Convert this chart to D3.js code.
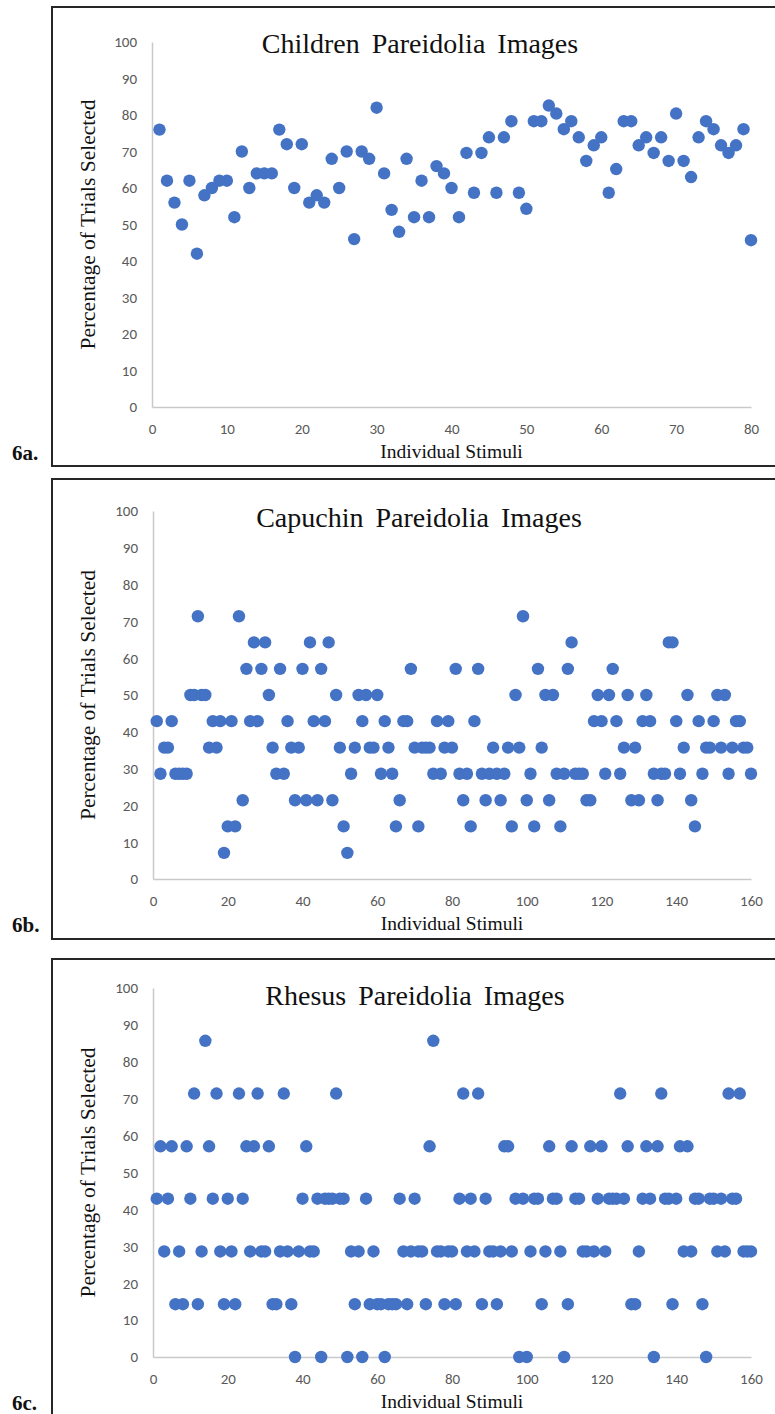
<!DOCTYPE html>
<html>
<head>
<meta charset="utf-8">
<script src="https://cdn.jsdelivr.net/npm/d3@7"></script>
<style>
  body { margin: 0; background: #fff; }
  svg { display: block; }
</style>
</head>
<body>
<script>
////////////////////////////////// Data //////////////////////////////////
// percentage of trials on which each stimulus was selected, stimulus 1..n
var childrenValues = [
  76, 62, 56, 50, 62, 42, 58, 60, 62, 62,
  52, 70, 60, 64, 64, 64, 76, 72, 60, 72,
  56, 58, 56, 68, 60, 70, 46, 70, 68, 82,
  64, 54, 48, 68, 52, 62, 52, 66, 64, 60,
  52, 69.6, 58.7, 69.6, 73.9, 58.7, 73.9, 78.3, 58.7, 54.3,
  78.3, 78.3, 82.6, 80.4, 76.1, 78.3, 73.9, 67.4, 71.7, 73.9,
  58.7, 65.2, 78.3, 78.3, 71.7, 73.9, 69.6, 73.9, 67.4, 80.4,
  67.4, 63, 73.9, 78.3, 76.1, 71.7, 69.6, 71.7, 76.1, 45.7
]

var capuchinValues = [
  42.9, 28.6, 35.7, 35.7, 42.9, 28.6, 28.6, 28.6, 28.6, 50,
  50, 71.4, 50, 50, 35.7, 42.9, 35.7, 42.9, 7.1, 14.3,
  42.9, 14.3, 71.4, 21.4, 57.1, 42.9, 64.3, 42.9, 57.1, 64.3,
  50, 35.7, 28.6, 57.1, 28.6, 42.9, 35.7, 21.4, 35.7, 57.1,
  21.4, 64.3, 42.9, 21.4, 57.1, 42.9, 64.3, 21.4, 50, 35.7,
  14.3, 7.1, 28.6, 35.7, 50, 42.9, 50, 35.7, 35.7, 50,
  28.6, 42.9, 35.7, 28.6, 14.3, 21.4, 42.9, 42.9, 57.1, 35.7,
  14.3, 35.7, 35.7, 35.7, 28.6, 42.9, 28.6, 35.7, 42.9, 35.7,
  57.1, 28.6, 21.4, 28.6, 14.3, 42.9, 57.1, 28.6, 21.4, 28.6,
  35.7, 28.6, 21.4, 28.6, 35.7, 14.3, 50, 35.7, 71.4, 21.4,
  28.6, 14.3, 57.1, 35.7, 50, 21.4, 50, 28.6, 14.3, 28.6,
  57.1, 64.3, 28.6, 28.6, 28.6, 21.4, 21.4, 42.9, 50, 42.9,
  28.6, 50, 57.1, 42.9, 28.6, 35.7, 50, 21.4, 35.7, 21.4,
  42.9, 50, 42.9, 28.6, 21.4, 28.6, 28.6, 64.3, 64.3, 42.9,
  28.6, 35.7, 50, 21.4, 14.3, 42.9, 28.6, 35.7, 35.7, 42.9,
  50, 35.7, 50, 28.6, 35.7, 42.9, 42.9, 35.7, 35.7, 28.6
]

var rhesusValues = [
  42.9, 57.1, 28.6, 42.9, 57.1, 14.3, 28.6, 14.3, 57.1, 42.9,
  71.4, 14.3, 28.6, 85.7, 57.1, 42.9, 71.4, 28.6, 14.3, 42.9,
  28.6, 14.3, 71.4, 42.9, 57.1, 28.6, 57.1, 71.4, 28.6, 28.6,
  57.1, 14.3, 14.3, 28.6, 71.4, 28.6, 14.3, 0, 28.6, 42.9,
  57.1, 28.6, 28.6, 42.9, 0, 42.9, 42.9, 42.9, 71.4, 42.9,
  42.9, 0, 28.6, 14.3, 28.6, 0, 42.9, 14.3, 28.6, 14.3,
  14.3, 0, 14.3, 14.3, 14.3, 42.9, 28.6, 14.3, 28.6, 42.9,
  28.6, 28.6, 14.3, 57.1, 85.7, 28.6, 28.6, 14.3, 28.6, 28.6,
  14.3, 42.9, 71.4, 28.6, 42.9, 28.6, 71.4, 14.3, 42.9, 28.6,
  28.6, 14.3, 28.6, 57.1, 57.1, 28.6, 42.9, 0, 42.9, 0,
  28.6, 42.9, 42.9, 14.3, 28.6, 57.1, 42.9, 42.9, 28.6, 0,
  14.3, 57.1, 42.9, 42.9, 28.6, 28.6, 57.1, 28.6, 42.9, 57.1,
  28.6, 42.9, 42.9, 42.9, 71.4, 42.9, 57.1, 14.3, 14.3, 28.6,
  42.9, 57.1, 42.9, 0, 57.1, 71.4, 42.9, 42.9, 14.3, 42.9,
  57.1, 28.6, 57.1, 28.6, 42.9, 42.9, 14.3, 0, 42.9, 42.9,
  28.6, 42.9, 28.6, 71.4, 42.9, 42.9, 71.4, 28.6, 28.6, 28.6
]

var yTicks = [0, 10, 20, 30, 40, 50, 60, 70, 80, 90, 100]
var xTicksChildren = [0, 10, 20, 30, 40, 50, 60, 70, 80]
var xTicksMonkey = [0, 20, 40, 60, 80, 100, 120, 140, 160]

var titles = ["Children Pareidolia Images", "Capuchin Pareidolia Images", "Rhesus Pareidolia Images"]
var tags = ["6a.", "6b.", "6c."]
var yLabel = "Percentage of Trials Selected"
var xLabel = "Individual Stimuli"

////////////////////////////////// Layout //////////////////////////////////
var W = 775, H = 1414
var dotColor = "#4472c4"
var axisColor = "#c9c9c9"
var tickColor = "#595959"
var serif = "'Liberation Serif', 'Times New Roman', serif"
var sans = "Carlito, Lato, 'Liberation Sans', sans-serif"

var panels = [
  { values: childrenValues, xMax: 80, xTicks: xTicksChildren,
    frameTop: 7, frameBottom: 466, left: 152, right: 751, top: 42, bottom: 407,
    titleX: 420, titleY: 53 },
  { values: capuchinValues, xMax: 160, xTicks: xTicksMonkey,
    frameTop: 479, frameBottom: 939, left: 153, right: 751, top: 511, bottom: 879,
    titleX: 419, titleY: 527 },
  { values: rhesusValues, xMax: 160, xTicks: xTicksMonkey,
    frameTop: 959, frameBottom: 1440, left: 153, right: 751, top: 988, bottom: 1357,
    titleX: 415, titleY: 1005 }
]

var svg = d3.select("body").append("svg")
  .attr("width", W)
  .attr("height", H)

panels.forEach(function (p, i) {
  var g = svg.append("g")

  // panel frame (right edge runs off the page)
  g.append("rect")
    .attr("x", 52).attr("y", p.frameTop)
    .attr("width", 760).attr("height", p.frameBottom - p.frameTop)
    .attr("fill", "none")
    .attr("stroke", "#262626")
    .attr("stroke-width", 2)

  var x = d3.scaleLinear().domain([0, p.xMax]).range([p.left, p.right])
  var y = d3.scaleLinear().domain([0, 100]).range([p.bottom, p.top])

  // axes, no tick marks
  var yAxis = g.append("g")
    .attr("transform", "translate(" + p.left + ",0)")
    .call(d3.axisLeft(y).tickValues(yTicks).tickSize(0).tickPadding(15))
  var xAxis = g.append("g")
    .attr("transform", "translate(0," + p.bottom + ")")
    .call(d3.axisBottom(x).tickValues(p.xTicks).tickSize(0).tickPadding(16))

  ;[yAxis, xAxis].forEach(function (a) {
    a.select(".domain").attr("stroke", axisColor).attr("stroke-width", 1.5)
    a.selectAll("text")
      .attr("fill", tickColor)
      .style("font-family", sans)
      .style("font-size", "15px")
  })

  // title
  g.append("text")
    .attr("x", p.titleX).attr("y", p.titleY)
    .attr("text-anchor", "middle")
    .style("font-family", serif)
    .style("font-size", "28px")
    .style("word-spacing", "5px")
    .attr("fill", "#111")
    .text(titles[i])

  // axis titles
  g.append("text")
    .attr("transform", "translate(95," + ((p.top + p.bottom) / 2) + ") rotate(-90)")
    .attr("text-anchor", "middle")
    .style("font-family", serif)
    .style("font-size", "21.5px")
    .attr("fill", "#111")
    .text(yLabel)

  g.append("text")
    .attr("x", (p.left + p.right) / 2).attr("y", p.bottom + 51)
    .attr("text-anchor", "middle")
    .style("font-family", serif)
    .style("font-size", "19.5px")
    .attr("fill", "#111")
    .text(xLabel)

  // panel tag
  g.append("text")
    .attr("x", 12).attr("y", p.bottom + 53)
    .style("font-family", serif)
    .style("font-size", "21px")
    .style("font-weight", "bold")
    .attr("fill", "#111")
    .text(tags[i])

  // points
  g.append("g").selectAll("circle")
    .data(p.values)
    .enter()
    .append("circle")
      .attr("cx", function (d, k) { return x(k + 1) })
      .attr("cy", function (d) { return y(d) })
      .attr("r", 6.2)
      .attr("fill", dotColor)
})
</script>
</body>
</html>
